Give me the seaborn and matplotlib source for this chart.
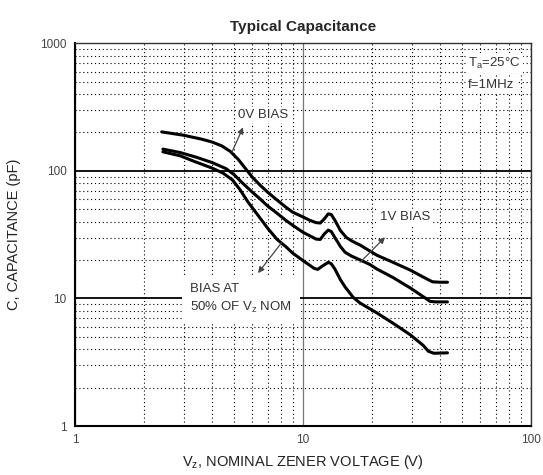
import matplotlib
matplotlib.use("Agg")
import matplotlib.pyplot as plt
import matplotlib.ticker as mticker
import seaborn as sns
import pandas as pd

# 0V bias curve
vz_0v = [2.4, 3.0, 3.6, 4.0, 4.4, 4.8, 5.2, 5.6, 6.0, 6.5, 7.0, 7.7, 8.4, 9.0,
         10.0, 10.7, 11.4, 11.9, 12.4, 12.9, 13.3, 13.8, 14.6, 15.5, 16.5, 17.8,
         21.1, 24.8, 29.5, 33.0, 35.5, 37.0, 40.0, 43.0]
cap_0v = [202, 190, 177, 168, 157, 142, 123, 104, 89, 77, 68, 59, 52, 47.5,
          43.5, 41, 39.3, 39, 42, 46, 45.5, 41, 34, 30, 28, 26.2,
          21.8, 19.2, 16.7, 15, 14, 13.5, 13.4, 13.4]

# 1V bias curve
vz_1v = [2.43, 2.9, 3.4, 4.0, 4.6, 5.0, 5.4, 6.0, 6.5, 7.0, 7.7, 8.4, 9.0,
         10.0, 10.7, 11.4, 11.9, 12.4, 12.9, 13.3, 13.8, 14.6, 15.3, 16.3, 17.3,
         19.6, 21.1, 24.8, 29.5, 34.3, 36.0, 38.0, 43.0]
cap_1v = [148, 139, 128, 116, 104, 93, 81, 68, 60, 53, 46.5, 41, 37.5,
          33, 31, 29.2, 29, 32, 34.3, 33.5, 30, 25.5, 23, 21.5, 20.5,
          18.5, 17, 14.6, 12.1, 10.1, 9.5, 9.4, 9.4]

# bias at 50% of Vz nom
vz_50 = [2.43, 2.9, 3.36, 4.0, 4.46, 4.9, 5.3, 5.74, 6.4, 7.0, 7.7, 8.4, 9.0,
         10.0, 10.7, 11.2, 11.6, 12.2, 12.9, 13.3, 13.8, 14.6, 15.3, 16.6, 17.8,
         21.1, 24.8, 29.5, 33.6, 35.5, 37.5, 43.0]
cap_50 = [141, 131, 118, 105, 96, 85, 71, 57, 44, 35.5, 29, 25.5, 22.7,
          19.8, 18.2, 17.2, 16.9, 18, 19.2, 18.7, 17, 14, 12.3, 10.2, 9.2,
          7.7, 6.4, 5.2, 4.3, 3.85, 3.72, 3.75]

x_ticks = [1, 10, 100]
y_ticks = [1, 10, 100, 1000]

df = pd.concat([
    pd.DataFrame({"vz": vz_0v, "cap": cap_0v, "curve": "0V"}),
    pd.DataFrame({"vz": vz_1v, "cap": cap_1v, "curve": "1V"}),
    pd.DataFrame({"vz": vz_50, "cap": cap_50, "curve": "50%"}),
])

sns.set_style("white")
plt.rcParams["font.family"] = ["Liberation Sans", "DejaVu Sans"]
plt.rcParams["mathtext.fontset"] = "custom"
plt.rcParams["mathtext.rm"] = "Liberation Sans"

fig = plt.figure(figsize=(5.43, 4.75), dpi=100)
ax = fig.add_axes([0.138, 0.103, 0.840, 0.806])

sns.lineplot(data=df, x="vz", y="cap", units="curve", estimator=None, sort=False,
             color="black", lw=2.2, ax=ax, zorder=5,
             solid_joinstyle="round", solid_capstyle="round")

ax.set_xscale("log")
ax.set_yscale("log")
ax.set_xlim(1, 100)
ax.set_ylim(1, 1000)
ax.set_xticks(x_ticks)
ax.set_xticklabels([str(v) for v in x_ticks])
ax.set_yticks(y_ticks)
ax.set_yticklabels([str(v) for v in y_ticks])
ax.xaxis.set_minor_locator(mticker.LogLocator(base=10, subs=range(2, 10)))
ax.yaxis.set_minor_locator(mticker.LogLocator(base=10, subs=range(2, 10)))
ax.xaxis.set_minor_formatter(mticker.NullFormatter())
ax.yaxis.set_minor_formatter(mticker.NullFormatter())
ax.tick_params(which="both", length=0, labelsize=8.5, labelcolor="#444444", pad=6)

# grid
ax.set_axisbelow(True)
ax.grid(which="minor", color="black", ls=(0, (1, 2.5)), lw=0.8)
ax.xaxis.grid(which="major", color="#777777", ls="-", lw=0.9)
ax.yaxis.grid(which="major", color="black", ls="-", lw=1.3)

for s in ax.spines.values():
    s.set_color("#333333")
    s.set_linewidth(1.0)
ax.spines["left"].set_color("black")
ax.spines["bottom"].set_color("black")
ax.spines["left"].set_linewidth(1.5)
ax.spines["bottom"].set_linewidth(1.5)

ax.set_title("Typical Capacitance", fontsize=11, fontweight="bold", pad=9)
ax.set_ylabel("C, CAPACITANCE (pF)", fontsize=10.5, color="#222222", labelpad=14)
ax.set_xlabel(r"V$_\mathregular{z}$, NOMINAL ZENER VOLTAGE (V)", fontsize=10.5,
              color="#222222", labelpad=5)

box = dict(fc="white", ec="none", pad=1.5)
arrow = dict(arrowstyle="-|>", color="#444444", lw=0.9, mutation_scale=9,
             shrinkA=0, shrinkB=0)

ax.text(5.2, 272, "0V BIAS", fontsize=9.5, color="#333333", ha="left",
        va="center", bbox=box, zorder=3)
ax.annotate("", xy=(5.46, 219), xytext=(4.88, 140), arrowprops=arrow, zorder=6)

ax.text(21.8, 43.3, "1V BIAS", fontsize=9.5, color="#333333", ha="left",
        va="center", bbox=box, zorder=3)
ax.annotate("", xy=(22.9, 30.2), xytext=(17.8, 19.2), arrowprops=arrow, zorder=6)

ax.text(3.2, 9.9, "BIAS AT\n50% OF V$_\\mathregular{z}$ NOM", fontsize=9.5,
        color="#333333", ha="left", va="center", linespacing=1.5,
        bbox=dict(fc="white", ec="none", pad=6), zorder=3)
ax.annotate("", xy=(6.35, 15.8), xytext=(8.09, 27.6), arrowprops=arrow, zorder=6)

ax.text(53, 700, "T$_\\mathregular{a}$=25°C", fontsize=9.5, color="#333333",
        ha="left", va="center", bbox=box, zorder=3)
ax.text(53, 470, "f=1MHz", fontsize=9.5, color="#333333", ha="left",
        va="center", bbox=box, zorder=3)

fig.savefig("out.png", dpi=100)
